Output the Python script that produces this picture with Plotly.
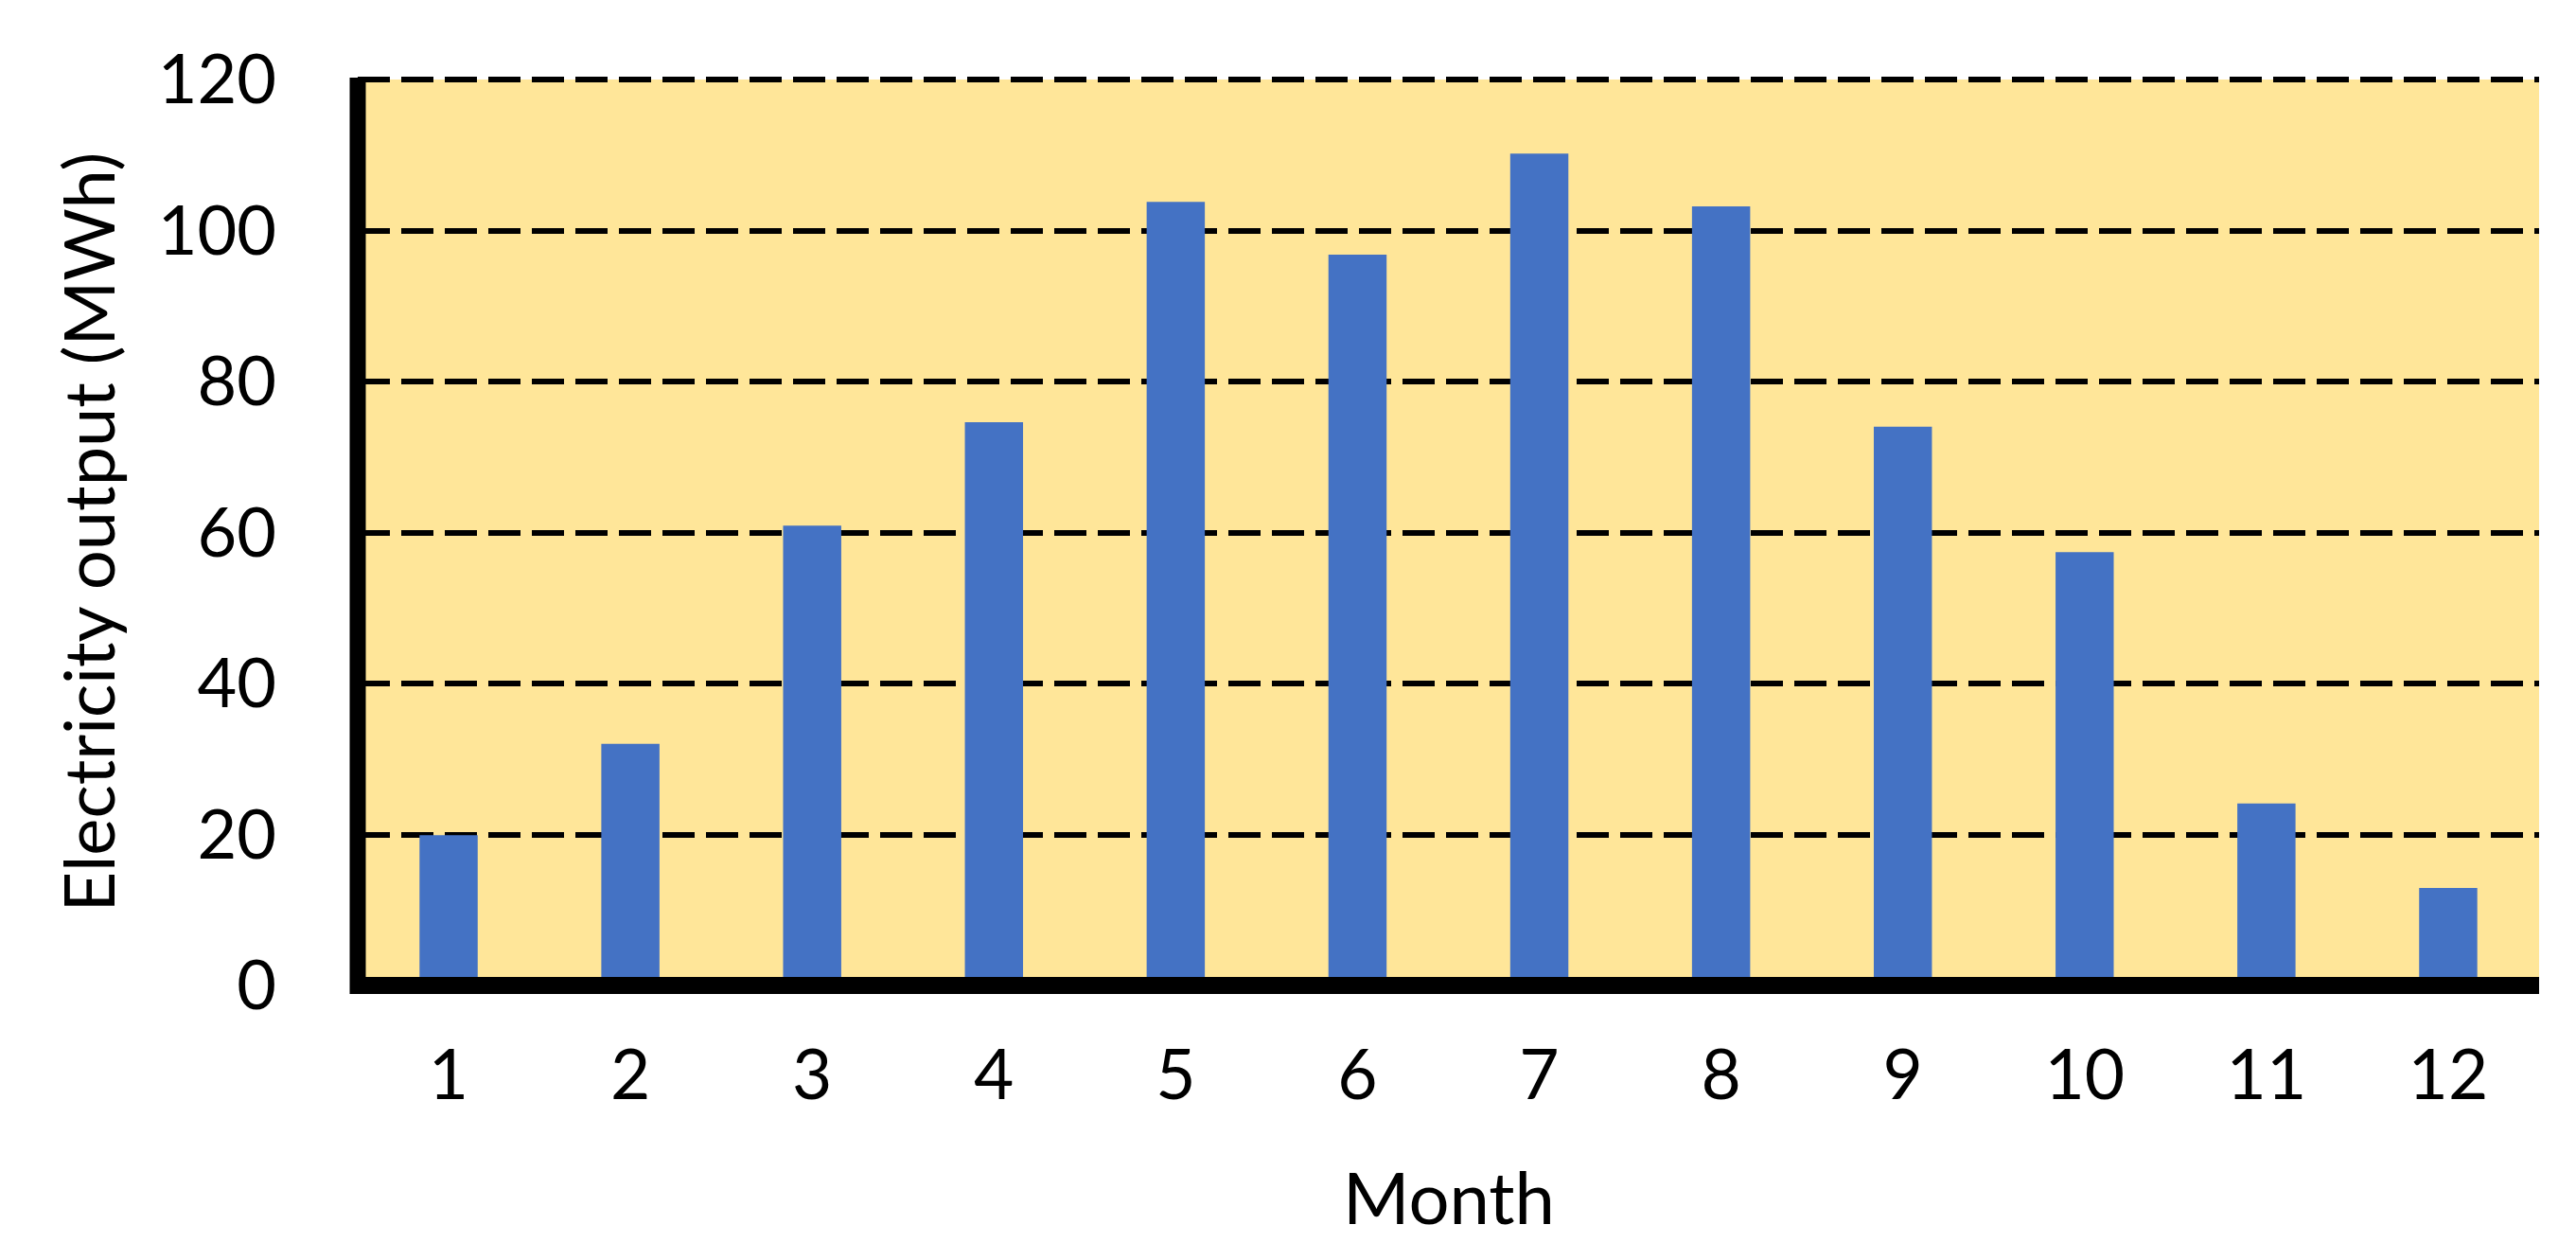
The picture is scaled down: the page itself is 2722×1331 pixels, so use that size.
import plotly.graph_objects as go

months = ["1", "2", "3", "4", "5", "6", "7", "8", "9", "10", "11", "12"]
output_mwh = [19.9, 32.0, 60.9, 74.6, 103.8, 96.8, 110.2, 103.2, 74.0, 57.4, 24.1, 12.9]
y_ticks = [0, 20, 40, 60, 80, 100, 120]

W, H = 2722, 1331
L, R, T, B = 370, 47, 76, 298
plot_h = H - T - B
plot_w = W - L - R
FONT = "Lato"
GRID_DASH = "34px,12px"

fig = go.Figure()
fig.add_trace(
    go.Bar(
        x=months,
        y=output_mwh,
        marker={"color": "#4472C4", "line": {"width": 0}},
        showlegend=False,
        hoverinfo="x+y",
    )
)

# plotly drops the gridline on the top edge, so draw that one by hand
fig.add_shape(
    type="line", xref="paper", yref="paper",
    x0=0, x1=1, y0=1, y1=1,
    line={"color": "black", "width": 6, "dash": GRID_DASH},
)
# axis lines drawn as shapes so they sit centred on the plot edges
fig.add_shape(
    type="line", xref="paper", yref="paper",
    x0=0, x1=0, y0=-9 / plot_h, y1=1 + 2 / plot_h,
    line={"color": "black", "width": 17},
)
fig.add_shape(
    type="line", xref="paper", yref="paper",
    x0=0, x1=1, y0=0, y1=0,
    line={"color": "black", "width": 18},
)

fig.add_annotation(
    text="Electricity output (MWh)",
    xref="paper", yref="paper",
    x=(84 - L) / plot_w, y=0.5,
    xanchor="center", yanchor="middle",
    textangle=-90, showarrow=False,
    font={"family": FONT, "size": 74, "color": "black"},
)
fig.add_annotation(
    text="Month",
    xref="paper", yref="paper",
    x=0.5, y=(H - B - 1255) / plot_h,
    xanchor="center", yanchor="middle",
    showarrow=False,
    font={"family": FONT, "size": 76, "color": "black"},
)

fig.update_xaxes(
    type="category",
    showline=False,
    showgrid=False,
    zeroline=False,
    ticks="",
    ticklabelstandoff=46,
    tickfont={"family": FONT, "size": 73, "color": "black"},
)
fig.update_yaxes(
    range=[0, 120],
    tickvals=y_ticks,
    showline=False,
    zeroline=False,
    showgrid=True,
    gridcolor="black",
    gridwidth=6,
    griddash=GRID_DASH,
    ticks="",
    ticklabelstandoff=85,
    tickfont={"family": FONT, "size": 72, "color": "black"},
)

fig.update_layout(
    width=W,
    height=H,
    margin={"l": L, "r": R, "t": T, "b": B},
    paper_bgcolor="white",
    plot_bgcolor="#FFE699",
    bargap=0.68,
    font={"family": FONT, "color": "black"},
)

fig.write_html("out.html")
